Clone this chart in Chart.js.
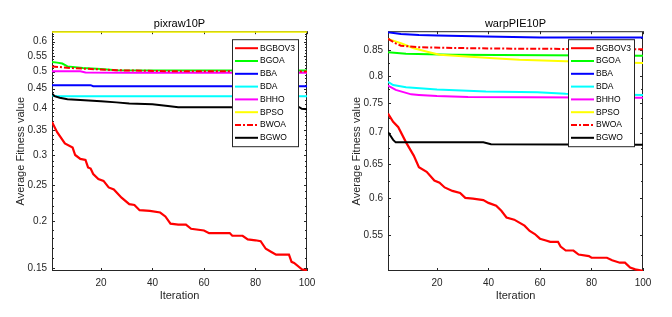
<!DOCTYPE html>
<html>
<head>
<meta charset="utf-8">
<script src="https://cdn.jsdelivr.net/npm/chart.js@4"></script>
<style>
  body { margin: 0; background: #fff; }
  .wrap { display: flex; width: 672px; height: 317px; }
  canvas { display: block; }
</style>
</head>
<body>
<div class="wrap">
  <canvas id="pix_chart" width="336" height="317"></canvas>
  <canvas id="warp_chart" width="336" height="317"></canvas>
</div>
<script>
// series names and line styles (same order as the legend)
let seriesNames = ['BGBOV3', 'BGOA', 'BBA', 'BDA', 'BHHO', 'BPSO', 'BWOA', 'BGWO'];
let seriesColors = ['#ff0000', '#00ff00', '#0000ff', '#00ffff', '#ff00ff', '#ffff00', '#ff0000', '#000000'];

let xTicks = [20, 40, 60, 80, 100];
let pixYTicks = [0.15, 0.2, 0.25, 0.3, 0.35, 0.4, 0.45, 0.5, 0.55, 0.6];
let warpYTicks = [0.55, 0.6, 0.65, 0.7, 0.75, 0.8, 0.85];

// ---- pixraw10P (iteration, average fitness) ----
let pixBGBOV3It = [1, 3, 6, 9, 10, 12, 14, 15, 16, 17, 19, 21, 23, 25, 28, 31, 33, 35, 39, 43, 45, 47, 50, 53, 55, 60, 62, 70, 71, 75, 77, 80, 82, 84, 86, 88, 93, 94, 95, 98, 100];
let pixBGBOV3 = [0.367, 0.345, 0.322, 0.314, 0.300, 0.293, 0.291, 0.278, 0.276, 0.267, 0.259, 0.256, 0.246, 0.243, 0.231, 0.222, 0.221, 0.214, 0.213, 0.211, 0.206, 0.197, 0.196, 0.196, 0.191, 0.189, 0.186, 0.186, 0.183, 0.183, 0.179, 0.178, 0.177, 0.169, 0.166, 0.163, 0.163, 0.156, 0.155, 0.149, 0.148];
let pixBGOAIt = [1, 3, 5, 7, 13, 20, 26, 100];
let pixBGOA = [0.530, 0.528, 0.525, 0.516, 0.511, 0.508, 0.504, 0.503];
let pixBBAIt = [1, 16, 17, 100];
let pixBBA = [0.460, 0.460, 0.457, 0.457];
let pixBDAIt = [1, 3, 100];
let pixBDA = [0.432, 0.430, 0.430];
let pixBHHOIt = [1, 12, 14, 30, 100];
let pixBHHO = [0.501, 0.501, 0.497, 0.496, 0.496];
let pixBPSOIt = [1, 100];
let pixBPSO = [0.638, 0.638];
let pixBWOAIt = [1, 8, 13, 26, 45, 100];
let pixBWOA = [0.516, 0.511, 0.509, 0.504, 0.501, 0.500];
let pixBGWOIt = [1, 2, 4, 7, 12, 20, 26, 31, 40, 46, 50, 97, 98, 100];
let pixBGWO = [0.437, 0.430, 0.426, 0.422, 0.420, 0.417, 0.414, 0.411, 0.409, 0.405, 0.402, 0.402, 0.398, 0.397];

// ---- warpPIE10P ----
let warpBGBOV3It = [1, 3, 5, 8, 11, 13, 16, 19, 21, 23, 26, 29, 31, 34, 38, 40, 43, 45, 47, 50, 54, 56, 58, 60, 62, 64, 67, 68, 70, 73, 75, 79, 80, 86, 88, 91, 93, 95, 97, 100];
let warpBGBOV3 = [0.732, 0.718, 0.709, 0.684, 0.663, 0.645, 0.638, 0.625, 0.622, 0.615, 0.610, 0.607, 0.600, 0.599, 0.597, 0.593, 0.589, 0.582, 0.573, 0.570, 0.562, 0.555, 0.551, 0.545, 0.543, 0.541, 0.541, 0.535, 0.530, 0.530, 0.525, 0.523, 0.521, 0.521, 0.518, 0.515, 0.515, 0.509, 0.507, 0.505];
let warpBGOAIt = [1, 8, 26, 100];
let warpBGOA = [0.846, 0.843, 0.841, 0.839];
let warpBBAIt = [1, 6, 13, 20, 39, 60, 100];
let warpBBA = [0.887, 0.883, 0.881, 0.880, 0.878, 0.876, 0.876];
let warpBDAIt = [1, 3, 8, 20, 39, 59, 70, 100];
let warpBDA = [0.789, 0.783, 0.779, 0.775, 0.771, 0.770, 0.767, 0.765];
let warpBHHOIt = [1, 4, 10, 13, 20, 32, 100];
let warpBHHO = [0.782, 0.774, 0.766, 0.765, 0.763, 0.761, 0.760];
let warpBPSOIt = [1, 6, 11, 17, 21, 33, 42, 52, 70, 100];
let warpBPSO = [0.873, 0.864, 0.854, 0.846, 0.841, 0.837, 0.834, 0.831, 0.828, 0.825];
let warpBWOAIt = [1, 4, 6, 13, 33, 52, 100];
let warpBWOA = [0.873, 0.864, 0.859, 0.856, 0.854, 0.853, 0.852];
let warpBGWOIt = [1, 3, 4, 38, 41, 100];
let warpBGWO = [0.701, 0.688, 0.684, 0.684, 0.681, 0.680];

let pixSeries = [
    [pixBGBOV3It, pixBGBOV3], [pixBGOAIt, pixBGOA], [pixBBAIt, pixBBA], [pixBDAIt, pixBDA],
    [pixBHHOIt, pixBHHO], [pixBPSOIt, pixBPSO], [pixBWOAIt, pixBWOA], [pixBGWOIt, pixBGWO]
];
let warpSeries = [
    [warpBGBOV3It, warpBGBOV3], [warpBGOAIt, warpBGOA], [warpBBAIt, warpBBA], [warpBDAIt, warpBDA],
    [warpBHHOIt, warpBHHO], [warpBPSOIt, warpBPSO], [warpBWOAIt, warpBWOA], [warpBGWOIt, warpBGWO]
];

let fontFam = '"Liberation Sans", Arial, Helvetica, sans-serif';
let ink = '#262626';

// box with ticks pointing inward, matlab style
let frameTicks = {
    id: 'frameTicks',
    beforeDatasetsDraw(chart, args, opts) {
        let ctx = chart.ctx;
        let a = chart.chartArea;
        let xs = chart.scales.x, ys = chart.scales.y;
        ctx.save();
        ctx.strokeStyle = ink;
        ctx.lineWidth = 1;
        ctx.strokeRect(a.left + 0.5, a.top + 0.5, a.right - a.left - 1, a.bottom - a.top - 1);
        ctx.beginPath();
        xs.ticks.forEach(function (t) {
            let px = Math.round(xs.getPixelForValue(t.value)) + 0.5;
            ctx.moveTo(px, a.bottom); ctx.lineTo(px, a.bottom - 3);
            ctx.moveTo(px, a.top); ctx.lineTo(px, a.top + 3);
        });
        ys.ticks.forEach(function (t) {
            let py = Math.round(ys.getPixelForValue(t.value)) + 0.5;
            ctx.moveTo(a.left, py); ctx.lineTo(a.left + 3, py);
            ctx.moveTo(a.right, py); ctx.lineTo(a.right - 3, py);
        });
        (opts.minor || []).forEach(function (v) {
            let py = Math.round(ys.getPixelForValue(v)) + 0.5;
            ctx.moveTo(a.left, py); ctx.lineTo(a.left + 2, py);
            ctx.moveTo(a.right, py); ctx.lineTo(a.right - 2, py);
        });
        ctx.stroke();
        ctx.restore();
    }
};

// legend box inside the axes, upper right
let boxLegend = {
    id: 'boxLegend',
    afterDatasetsDraw(chart) {
        let ctx = chart.ctx;
        let a = chart.chartArea;
        let left = a.right - 75, top = a.top + 8, w = 66, h = 107;
        ctx.save();
        ctx.fillStyle = '#fff';
        ctx.fillRect(left, top, w, h);
        ctx.strokeStyle = ink;
        ctx.lineWidth = 1;
        ctx.strokeRect(left + 0.5, top + 0.5, w, h);
        ctx.font = '8.5px ' + fontFam;
        ctx.textBaseline = 'middle';
        chart.data.datasets.forEach(function (ds, i) {
            let y = top + 9 + i * 12.8;
            ctx.strokeStyle = ds.borderColor;
            ctx.lineWidth = 2;
            ctx.setLineDash(ds.borderDash || []);
            ctx.beginPath();
            ctx.moveTo(left + 3, y);
            ctx.lineTo(left + 26, y);
            ctx.stroke();
            ctx.setLineDash([]);
            ctx.fillStyle = '#000';
            ctx.fillText(ds.label, left + 28, y);
        });
        ctx.restore();
    }
};

function minorTicks(from, to, step, majors) {
    let out = [];
    for (let k = Math.round(from / step); k * step <= to + 1e-9; k++) {
        let v = +(k * step).toFixed(4);
        if (majors.indexOf(v) < 0) out.push(v);
    }
    return out;
}

function makeChart(id, title, series, yTicks, yMin, yMax, minor) {
    let datasets = series.map(function (s, i) {
        return {
            label: seriesNames[i],
            data: s[0].map(function (it, j) { return { x: it, y: s[1][j] }; }),
            borderColor: seriesColors[i],
            backgroundColor: seriesColors[i],
            borderWidth: i === 0 ? 2.2 : 2,
            borderDash: seriesNames[i] === 'BWOA' ? [6, 2, 2, 2] : [],
            pointRadius: 0,
            tension: 0,
            fill: false,
            order: seriesNames.length - i
        };
    });
    return new Chart(document.getElementById(id), {
        type: 'line',
        data: { datasets: datasets },
        options: {
            responsive: false,
            animation: false,
            layout: { padding: { left: 0, right: 29, top: 0, bottom: 0 } },
            plugins: {
                legend: { display: false },
                tooltip: { enabled: false },
                title: {
                    display: true,
                    text: title,
                    fullSize: false,
                    color: '#000',
                    font: { family: fontFam, size: 11, weight: 'normal', lineHeight: 1.2 },
                    padding: { top: 17, bottom: 1 }
                },
                frameTicks: { minor: minor }
            },
            scales: {
                x: {
                    type: 'linear',
                    min: 1,
                    max: 100,
                    afterBuildTicks: function (scale) {
                        scale.ticks = xTicks.map(function (v) { return { value: v }; });
                    },
                    afterFit: function (scale) { scale.height = 46; },
                    grid: { display: false, drawTicks: false },
                    border: { display: false },
                    ticks: {
                        autoSkip: false, maxRotation: 0, padding: 6, color: ink,
                        font: { family: fontFam, size: 10 }
                    },
                    title: {
                        display: true, text: 'Iteration', color: ink,
                        font: { family: fontFam, size: 11, lineHeight: 1.2 },
                        padding: { top: 0, bottom: 14 }
                    }
                },
                y: {
                    type: 'logarithmic',
                    min: yMin,
                    max: yMax,
                    afterBuildTicks: function (scale) {
                        scale.ticks = yTicks.map(function (v) { return { value: v }; });
                    },
                    afterFit: function (scale) { scale.width = 52; },
                    grid: { display: false, drawTicks: false },
                    border: { display: false },
                    ticks: {
                        autoSkip: false, padding: 5, color: ink,
                        font: { family: fontFam, size: 10 },
                        callback: function (v) { return String(v); }
                    },
                    title: {
                        display: true, text: 'Average Fitness value', color: ink,
                        font: { family: fontFam, size: 11, lineHeight: 1.2 },
                        padding: { top: 14, bottom: 0 }
                    }
                }
            }
        },
        plugins: [frameTicks, boxLegend]
    });
}

let pixChart = makeChart('pix_chart', 'pixraw10P', pixSeries, pixYTicks, 0.1475, 0.64,
    minorTicks(0.15, 0.64, 0.01, pixYTicks));
let warpChart = makeChart('warp_chart', 'warpPIE10P', warpSeries, warpYTicks, 0.505, 0.889,
    minorTicks(0.525, 0.889, 0.025, warpYTicks));
</script>
</body>
</html>
